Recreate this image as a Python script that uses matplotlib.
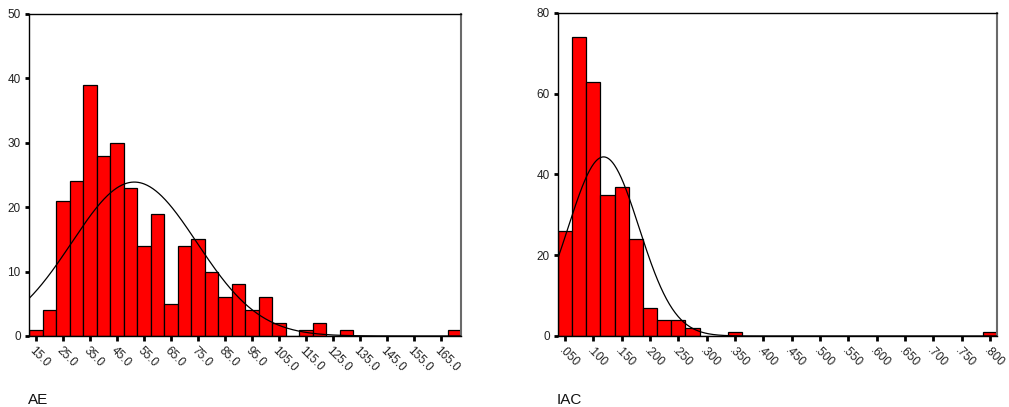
import numpy as np
import matplotlib
matplotlib.use("Agg")
import matplotlib.pyplot as plt
import matplotlib.transforms as mtransforms

plt.rcParams['font.family'] = ['Liberation Sans', 'DejaVu Sans']

# ---- AE histogram (bin centres, width 5) ----
ae_centers = [15, 20, 25, 30, 35, 40, 45, 50, 55, 60, 65, 70, 75, 80, 85, 90,
              95, 100, 105, 110, 115, 120, 125, 130, 135, 140, 145, 150, 155,
              160, 165, 170]
ae_counts = [1, 4, 21, 24, 39, 28, 30, 23, 14, 19, 5, 14, 15, 10, 6, 8,
             4, 6, 2, 0, 1, 2, 0, 1, 0, 0, 0, 0, 0, 0, 0, 1]
ae_bin_width = 5.0
ae_ticks = [15, 25, 35, 45, 55, 65, 75, 85, 95, 105, 115, 125, 135, 145, 155, 165]
ae_ticklabels = ["15.0", "25.0", "35.0", "45.0", "55.0", "65.0", "75.0", "85.0",
                 "95.0", "105.0", "115.0", "125.0", "135.0", "145.0", "155.0", "165.0"]
ae_yticks = [0, 10, 20, 30, 40, 50]
ae_mean, ae_sd = 51.5, 23.2

# ---- IAC histogram (bin centres, width .025) ----
iac_centers = [0.050, 0.075, 0.100, 0.125, 0.150, 0.175, 0.200, 0.225, 0.250,
               0.275, 0.300, 0.325, 0.350, 0.375, 0.400, 0.425, 0.450, 0.475,
               0.500, 0.525, 0.550, 0.575, 0.600, 0.625, 0.650, 0.675, 0.700,
               0.725, 0.750, 0.775, 0.800]
iac_counts = [26, 74, 63, 35, 37, 24, 7, 4, 4, 2, 0, 0, 1, 0, 0, 0, 0, 0,
              0, 0, 0, 0, 0, 0, 0, 0, 0, 0, 0, 0, 1]
iac_bin_width = 0.025
iac_ticks = [0.05, 0.10, 0.15, 0.20, 0.25, 0.30, 0.35, 0.40, 0.45, 0.50,
             0.55, 0.60, 0.65, 0.70, 0.75, 0.80]
iac_ticklabels = [".050", ".100", ".150", ".200", ".250", ".300", ".350", ".400",
                  ".450", ".500", ".550", ".600", ".650", ".700", ".750", ".800"]
iac_yticks = [0, 20, 40, 60, 80]
iac_mean, iac_sd = 0.118, 0.0625

W, H = 1009, 407
fig = plt.figure(figsize=(W / 100, H / 100), dpi=100)


def panel(rect, centers, counts, width, ticks, ticklabels, yticks, mean, sd, title, title_x):
    ax = fig.add_axes([rect[0] / W, 1 - rect[3] / H, (rect[2] - rect[0]) / W,
                       (rect[3] - rect[1]) / H])
    centers = np.asarray(centers, float)
    counts = np.asarray(counts, float)
    ax.bar(centers, counts, width=width, color='#ff0000', edgecolor='black',
           linewidth=0.9, zorder=2)
    lo = centers[0] - width / 2
    hi = centers[-1] + width / 2
    n = counts.sum()
    xs = np.linspace(lo, hi, 600)
    ys = n * width / (sd * np.sqrt(2 * np.pi)) * np.exp(-0.5 * ((xs - mean) / sd) ** 2)
    ax.plot(xs, ys, color='black', linewidth=0.9, zorder=3)
    ax.set_xlim(lo, hi)
    ax.set_ylim(0, yticks[-1])
    ax.set_yticks(yticks)
    ax.set_yticklabels([str(v) for v in yticks], fontsize=8.5, color='#222222')
    ax.set_xticks(ticks)
    ax.set_xticklabels(ticklabels, fontsize=8.5, color='#222222', rotation=-45,
                       ha='left', va='top', rotation_mode='anchor')
    offset = mtransforms.ScaledTranslation(4 / 100, 0, fig.dpi_scale_trans)
    for lab in ax.get_xticklabels():
        lab.set_transform(lab.get_transform() + offset)
    ax.tick_params(axis='y', length=3, width=2, pad=3, color='black')
    ax.tick_params(axis='x', length=3.5, width=2, pad=3, color='black')
    for s in ['left', 'top', 'bottom']:
        ax.spines[s].set_color('black')
        ax.spines[s].set_linewidth(1.0)
    ax.spines['right'].set_color('#6a6a6a')
    ax.spines['right'].set_linewidth(1.5)
    fig.text(title_x / W, 1 - 400 / H, title, fontsize=11, ha='left', va='center',
             color='#111111')
    return ax


panel((29, 14, 461, 336), ae_centers, ae_counts, ae_bin_width, ae_ticks,
      ae_ticklabels, ae_yticks, ae_mean, ae_sd, "AE", 28)
panel((558, 13, 997, 336), iac_centers, iac_counts, iac_bin_width, iac_ticks,
      iac_ticklabels, iac_yticks, iac_mean, iac_sd, "IAC", 557)

fig.savefig("out.png", dpi=100)
